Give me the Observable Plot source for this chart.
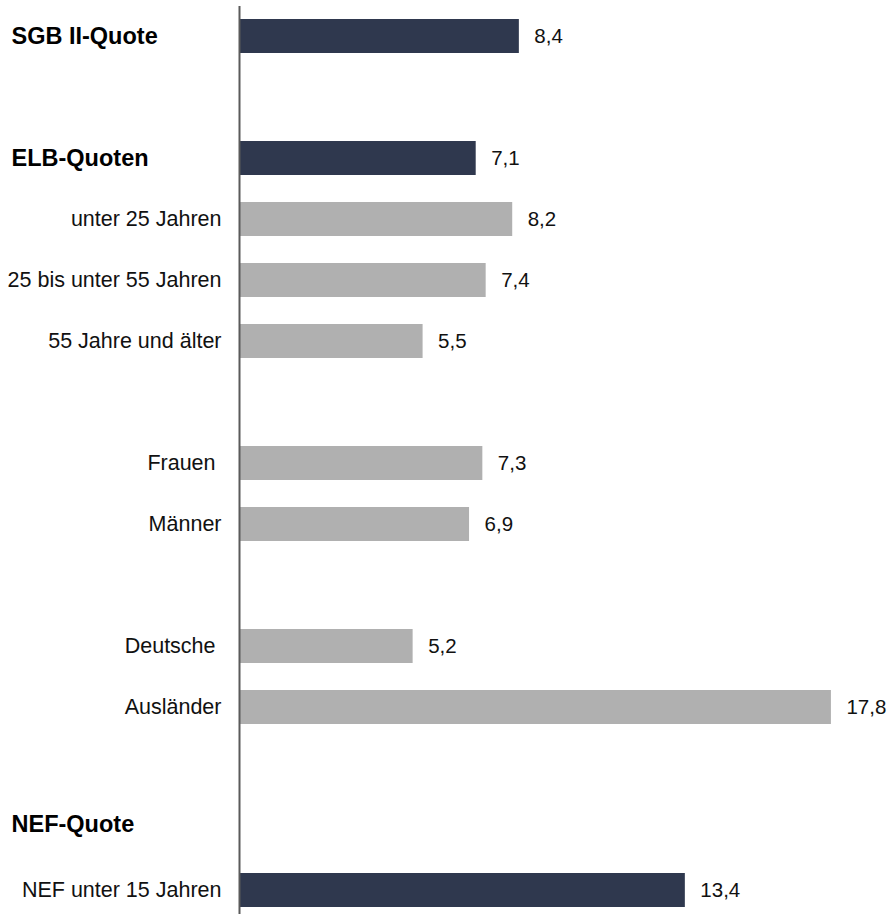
<!DOCTYPE html>
<html>
<head>
<meta charset="utf-8">
<script src="https://cdn.jsdelivr.net/npm/d3@7"></script>
<script src="https://cdn.jsdelivr.net/npm/@observablehq/plot@0.6"></script>
<style>
  html, body { margin: 0; padding: 0; background: #fff; }
  #chart svg text { white-space: pre; }
</style>
</head>
<body>
<div id="chart"></div>
<script>
// Row layout (slots, including empty spacer rows)
const slots = ["SGB II-Quote", "_gap1", "ELB-Quoten", "unter 25 Jahren", "25 bis unter 55 Jahren",
  "55 Jahre und älter", "_gap2", "Frauen ", "Männer", "_gap3", "Deutsche ", "Ausländer", "_gap4",
  "NEF-Quote", "NEF unter 15 Jahren"];

// Bars
const categories = ["SGB II-Quote", "ELB-Quoten", "unter 25 Jahren", "25 bis unter 55 Jahren",
  "55 Jahre und älter", "Frauen ", "Männer", "Deutsche ", "Ausländer", "NEF unter 15 Jahren"];
const values = [8.4, 7.1, 8.2, 7.4, 5.5, 7.3, 6.9, 5.2, 17.8, 13.4];
const isTotal = [true, true, false, false, false, false, false, false, false, true];

// Labels
const headings = ["SGB II-Quote", "ELB-Quoten", "NEF-Quote"];
const subLabels = ["unter 25 Jahren", "25 bis unter 55 Jahren", "55 Jahre und älter",
  "Frauen ", "Männer", "Deutsche ", "Ausländer", "NEF unter 15 Jahren"];

const data = categories.map((c, i) => ({ cat: c, value: values[i], total: isTotal[i] }));
const fmt = v => v.toFixed(1).replace(".", ",");
const headingStyle = { frameAnchor: "left", textAnchor: "start", dx: -229, fontSize: 23.5, fontWeight: "bold", fill: "#000" };

const chart = Plot.plot({
  width: 890,
  height: 914,
  marginLeft: 240,
  marginRight: 0,
  marginTop: 19,
  marginBottom: 7,
  style: { fontFamily: "'Liberation Sans', Arial, sans-serif", background: "#fff" },
  x: { domain: [0, 19.58], axis: null },
  y: { domain: slots, axis: null, padding: 0.443, paddingOuter: 0 },
  marks: [
    Plot.barX(data, {
      x: "value", y: "cat",
      fill: d => d.total ? "#2f384e" : "#b0b0b0"
    }),
    Plot.ruleX([0], { stroke: "#5a5a5a", strokeWidth: 2, dx: -1, insetTop: -13, insetBottom: -7 }),
    Plot.text(data, {
      x: "value", y: "cat", text: d => fmt(d.value),
      textAnchor: "start", dx: 15, fontSize: 20.5, fill: "#111"
    }),
    Plot.text(subLabels, {
      y: d => d, text: d => d, frameAnchor: "left",
      textAnchor: "end", dx: -19, fontSize: 21.5, fill: "#111"
    }),
    Plot.text(headings.slice(0, 2), { y: d => d, text: d => d, ...headingStyle }),
    Plot.text(headings.slice(2), { y: d => d, text: d => d, ...headingStyle, dy: -5 })
  ]
});
document.getElementById("chart").appendChild(chart);
</script>
</body>
</html>
